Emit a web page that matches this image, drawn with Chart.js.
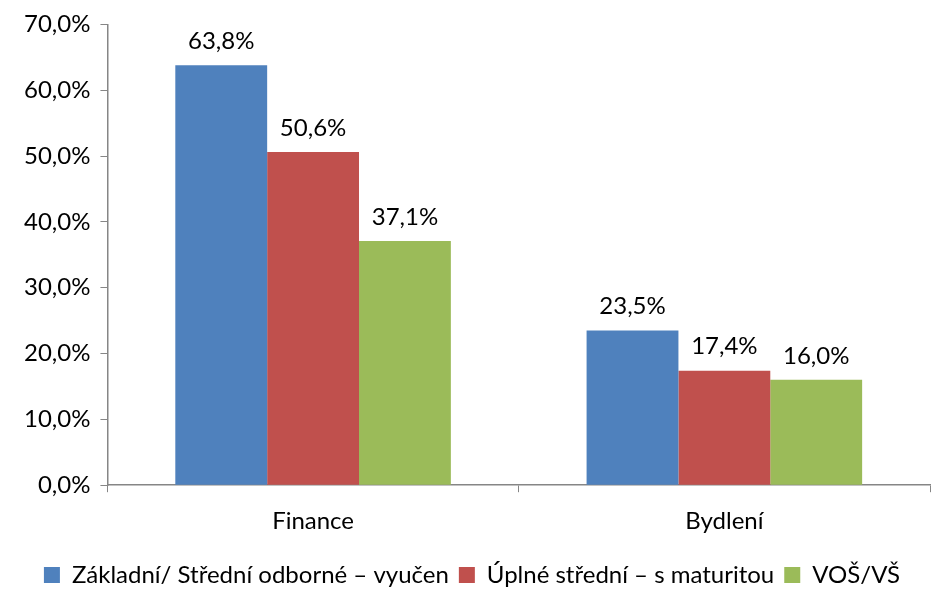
<!DOCTYPE html>
<html>
<head>
<meta charset="utf-8">
<script src="https://cdn.jsdelivr.net/npm/chart.js@4"></script>
<style>
html,body{margin:0;padding:0;background:#fff;}
#wrap{width:933px;height:589px;position:relative;}
</style>
</head>
<body>
<div id="wrap"><canvas id="c" width="933" height="589"></canvas></div>
<script>
const categories = ["Finance", "Bydlení"];
const seriesNames = ["Základní/ Střední odborné – vyučen", "Úplné střední – s maturitou", "VOŠ/VŠ"];
const zakladni = [63.8, 23.5];
const uplneStredni = [50.6, 17.4];
const vosVs = [37.1, 16.0];
const seriesColors = ["#4F81BD", "#C0504D", "#9BBB59"];
const yTicks = [0, 10, 20, 30, 40, 50, 60, 70];

const FONT = "Lato, Calibri, Carlito, 'Noto Sans', sans-serif";
const FS = 24;
const fmt = v => v.toFixed(1).replace('.', ',') + '%';

const dataLabels = {
  id: 'dataLabels',
  afterDatasetsDraw(chart) {
    const ctx = chart.ctx;
    ctx.save();
    ctx.font = FS + "px " + FONT;
    ctx.fillStyle = "#000";
    ctx.textAlign = "center";
    ctx.textBaseline = "middle";
    chart.data.datasets.forEach((ds, i) => {
      const meta = chart.getDatasetMeta(i);
      meta.data.forEach((bar, j) => {
        ctx.fillText(fmt(ds.data[j]), bar.x, bar.y - 24);
      });
    });
    ctx.restore();
  }
};

const datasetsData = [zakladni, uplneStredni, vosVs];
new Chart(document.getElementById('c'), {
  type: 'bar',
  data: {
    labels: categories,
    datasets: datasetsData.map((d, i) => ({
      label: seriesNames[i],
      data: d,
      backgroundColor: seriesColors[i],
      borderWidth: 0,
      barPercentage: 1.0,
      categoryPercentage: 0.67
    }))
  },
  options: {
    responsive: false,
    animation: false,
    devicePixelRatio: 1,
    layout: { padding: { left: 14, right: 3, top: 8, bottom: -8 } },
    plugins: {
      legend: {
        position: 'bottom',
        labels: {
          boxWidth: 16, boxHeight: 16, padding: 10,
          color: '#000',
          font: { family: FONT, size: FS }
        }
      },
      tooltip: { enabled: false }
    },
    scales: {
      x: {
        afterFit(scale) { scale.height += 2; },
        grid: { display: true, drawOnChartArea: false, drawTicks: true, tickLength: 7, color: '#868686', offset: true },
        border: { color: '#868686', width: 1.5 },
        ticks: { color: '#000', font: { family: FONT, size: FS }, padding: 15 }
      },
      y: {
        min: 0, max: 70,
        afterBuildTicks(axis) { axis.ticks = yTicks.map(v => ({ value: v })); },
        grid: { display: true, drawOnChartArea: false, drawTicks: true, tickLength: 7, color: '#868686' },
        border: { color: '#868686', width: 1.5 },
        ticks: { color: '#000', font: { family: FONT, size: FS }, padding: 10, callback: v => fmt(v) }
      }
    }
  },
  plugins: [dataLabels]
});
</script>
</body>
</html>
